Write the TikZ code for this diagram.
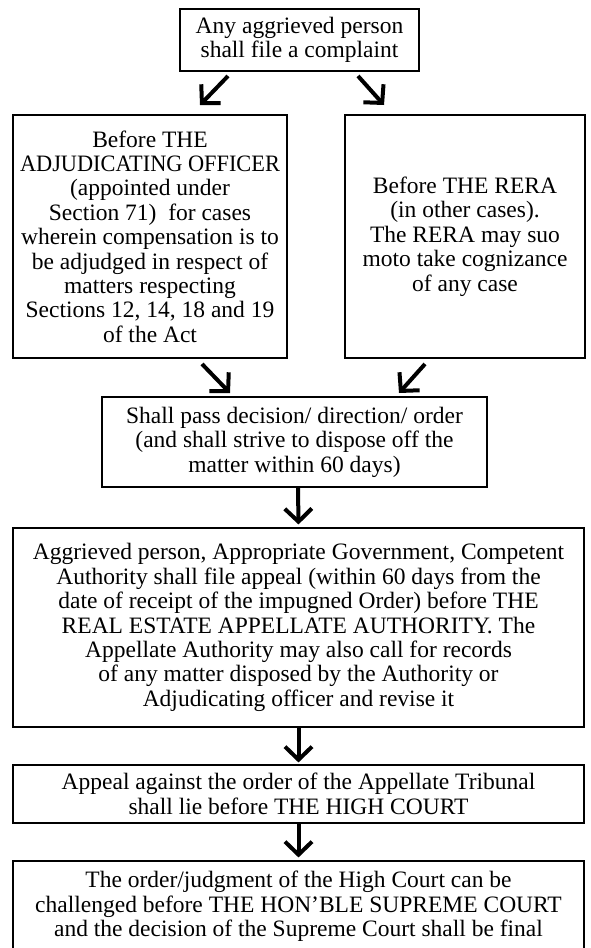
\documentclass[tikz,border=0pt]{standalone}
\usepackage{fontspec}
\usepackage{graphicx}
\setmainfont{Liberation Serif}
\usetikzlibrary{arrows.meta,calc}
\tikzset{
  box/.style={draw=black, line width=1.1pt, align=center, inner sep=0pt,
    font=\fontsize{23.5}{24.4}\selectfont},
  flow/.style={line width=4pt, -{Straight Barb[length=13pt,width=27pt]}}
}
\begin{document}
\begin{tikzpicture}[x=1pt,y=-1pt]
\useasboundingbox (0,0) rectangle (590,948);
\node[box, minimum width=239pt, minimum height=62pt] (top) at (299.5,40)
  {Any aggrieved person\\shall file a complaint};
\node[box, minimum width=274pt, minimum height=243pt] (ao) at (150,236.5)
  {Before THE\\\scalebox{0.95}[1]{ADJUDICATING OFFICER}\\(appointed under\\Section 71)\ \ for cases\\wherein compensation is to\\be adjudged in respect of\\matters respecting\\Sections 12, 14, 18 and 19\\of the Act};
\node[box, minimum width=240pt, minimum height=243pt] (rera) at (465,236.5)
  {Before THE RERA\\(in other cases).\\The RERA may suo\\moto take cognizance\\of any case};
\node[box, minimum width=385pt, minimum height=90pt] (dec) at (294.5,442)
  {Shall pass decision/ direction/ order\\(and shall strive to dispose off the\\matter within 60 days)};
\node[box, minimum width=571pt, minimum height=199pt] (app) at (298.5,627.5)
  {Aggrieved person, Appropriate Government, Competent\\Authority shall file appeal (within 60 days from the\\date of receipt of the impugned Order) before THE\\REAL ESTATE APPELLATE AUTHORITY. The\\Appellate Authority may also call for records\\of any matter disposed by the Authority or\\Adjudicating officer and revise it};
\node[box, minimum width=571pt, minimum height=58pt] (hc) at (298.5,794)
  {Appeal against the order of the Appellate Tribunal\\shall lie before THE HIGH COURT};
\node[box, minimum width=571pt, minimum height=91pt] (sc) at (298.5,906.5)
  {The order/judgment of the High Court can be\\challenged before THE HON’BLE SUPREME COURT\\and the decision of the Supreme Court shall be final};
% arrow end points
\coordinate (a1s) at (228,76);  \coordinate (a1e) at (200,105);
\coordinate (a2s) at (358,76);  \coordinate (a2e) at (384,105);
\coordinate (a3s) at (202,364); \coordinate (a3e) at (230,393);
\coordinate (a4s) at (425,364); \coordinate (a4e) at (399,393);
\draw[flow] (a1s) -- (a1e);
\draw[flow] (a2s) -- (a2e);
\draw[flow] (a3s) -- (a3e);
\draw[flow] (a4s) -- (a4e);
\draw[flow] (dec.south -| 298,0) -- ($(app.north)+(0,-3)$);
\draw[flow] (app.south) -- ($(hc.north)+(0,-2)$);
\draw[flow] (hc.south) -- ($(sc.north)+(0,-3)$);
\end{tikzpicture}
\end{document}
